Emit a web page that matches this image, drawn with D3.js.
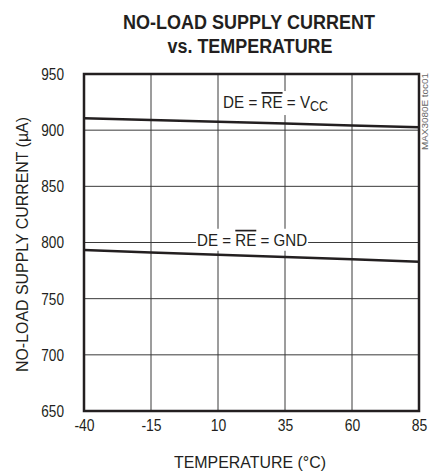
<!DOCTYPE html>
<html><head><meta charset="utf-8">
<script src="https://cdn.jsdelivr.net/npm/d3@7"></script>
<style>body{margin:0;background:#fff}svg{display:block}text{font-family:"Liberation Sans",Arial,sans-serif;fill:#231f20}</style>
</head><body>
<script>
const temps = [-40, -15, 10, 35, 60, 85];
const vccCurrent = [910.5, 909, 907.5, 906, 904.2, 902.5];
const gndCurrent = [793.3, 791.2, 789.2, 787, 785, 782.8];
const xTicks = [-40, -15, 10, 35, 60, 85];
const yTicks = [650, 700, 750, 800, 850, 900, 950];

const W = 429, H = 472;
const m = {l: 84, r: 10, t: 74, b: 61};
const svg = d3.select("body").append("svg").attr("width", W).attr("height", H);
const x = d3.scaleLinear().domain([-40, 85]).range([m.l, W - m.r]);
const y = d3.scaleLinear().domain([650, 950]).range([H - m.b, m.t]);

function squeeze(sel, k) {
  sel.each(function () {
    const len = this.getComputedTextLength();
    d3.select(this).attr("textLength", len * k).attr("lengthAdjust", "spacingAndGlyphs");
  });
}

// grid
svg.append("g").selectAll("line").data(xTicks.slice(1, -1)).join("line")
  .attr("x1", d => x(d)).attr("x2", d => x(d)).attr("y1", y(950)).attr("y2", y(650))
  .attr("stroke", "#3a3a3a").attr("stroke-width", 1);
svg.append("g").selectAll("line").data(yTicks.slice(1, -1)).join("line")
  .attr("x1", x(-40)).attr("x2", x(85)).attr("y1", d => y(d)).attr("y2", d => y(d))
  .attr("stroke", "#3a3a3a").attr("stroke-width", 1);

// axes (labels only)
const xAxis = d3.axisBottom(x).tickValues(xTicks).tickSize(0).tickPadding(8).tickFormat(d => String(d));
const gx = svg.append("g").attr("transform", `translate(0,${y(650)})`).call(xAxis);
gx.select(".domain").remove();
gx.attr("font-family", null);
gx.selectAll("text").attr("font-size", 17);
squeeze(gx.selectAll("text"), 0.82);
const yAxis = d3.axisLeft(y).tickValues(yTicks).tickSize(0).tickPadding(20).tickFormat(d => String(d));
const gy = svg.append("g").attr("transform", `translate(${x(-40)},0)`).call(yAxis);
gy.select(".domain").remove();
gy.attr("font-family", null);
gy.selectAll("text").attr("font-size", 17);
squeeze(gy.selectAll("text"), 0.8);
svg.selectAll(".tick text").attr("fill", "#231f20");

// labels with white backgrounds
function label(tx, ty, parts, width) {
  const g = svg.append("g");
  const rect = g.append("rect").attr("fill", "#fff");
  const t = g.append("text").attr("x", tx).attr("y", ty).attr("font-size", 17)
    .attr("textLength", width).attr("lengthAdjust", "spacingAndGlyphs");
  parts.forEach(p => {
    const s = t.append("tspan").text(p.t);
    if (p.sub) s.attr("font-size", 14).attr("dy", 3);
    if (p.over) s.attr("text-decoration", "overline");
  });
  const bb = t.node().getBBox();
  rect.attr("x", bb.x - 1).attr("y", bb.y - 2).attr("width", bb.width + 2).attr("height", bb.height + 3);
  return t;
}
label(x(11.9), y(919.7), [{t: "DE = "}, {t: "RE", over: true}, {t: " = V"}, {t: "CC", sub: true}], 105);
label(x(2.2), y(797.1), [{t: "DE = "}, {t: "RE", over: true}, {t: " = GND"}], 110);

// series lines
const line = d3.line().x((d, i) => x(temps[i])).y(d => y(d));
[vccCurrent, gndCurrent].forEach(s => {
  svg.append("path").datum(s).attr("d", line).attr("fill", "none")
    .attr("stroke", "#231f20").attr("stroke-width", 2.5);
});

// frame
svg.append("rect").attr("x", x(-40)).attr("y", y(950)).attr("width", x(85) - x(-40)).attr("height", y(650) - y(950))
  .attr("fill", "none").attr("stroke", "#231f20").attr("stroke-width", 2.5);

// titles
svg.append("text").attr("x", 249).attr("y", 28.5).attr("text-anchor", "middle").attr("font-size", 20).attr("font-weight", "bold")
  .attr("textLength", 252).attr("lengthAdjust", "spacingAndGlyphs").text("NO-LOAD SUPPLY CURRENT");
svg.append("text").attr("x", 250).attr("y", 53).attr("text-anchor", "middle").attr("font-size", 20).attr("font-weight", "bold")
  .attr("textLength", 165).attr("lengthAdjust", "spacingAndGlyphs").text("vs. TEMPERATURE");
svg.append("text").attr("x", 250).attr("y", 468).attr("text-anchor", "middle").attr("font-size", 17)
  .attr("textLength", 152).attr("lengthAdjust", "spacingAndGlyphs").text("TEMPERATURE (°C)");
svg.append("text").attr("transform", `translate(28,244.5) rotate(-90)`).attr("text-anchor", "middle").attr("font-size", 17)
  .attr("textLength", 255).attr("lengthAdjust", "spacingAndGlyphs").text("NO-LOAD SUPPLY CURRENT (µA)");
svg.append("text").attr("transform", `translate(428,73) rotate(-90)`).attr("text-anchor", "end").attr("font-size", 9)
  .attr("textLength", 77).attr("lengthAdjust", "spacingAndGlyphs").style("fill", "#666").text("MAX3080E toc01");
</script>
</body></html>
